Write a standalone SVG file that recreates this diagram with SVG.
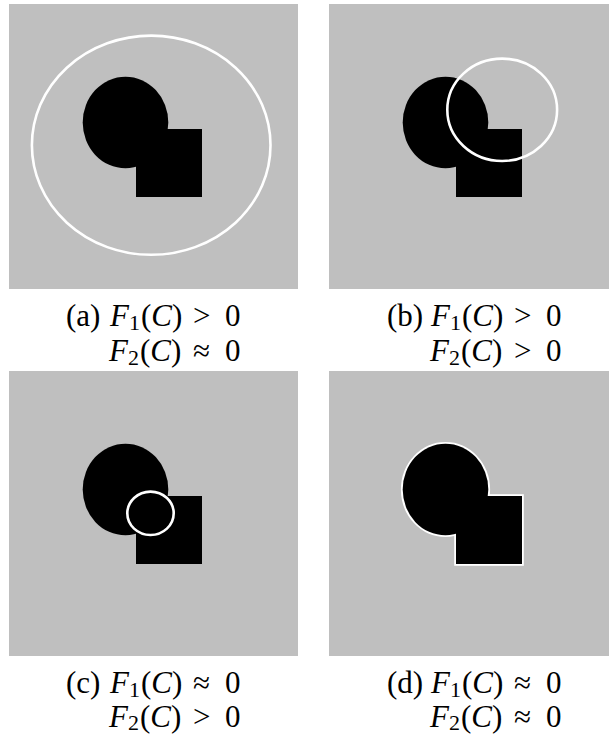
<svg xmlns="http://www.w3.org/2000/svg" xmlns:xlink="http://www.w3.org/1999/xlink" width="609" height="736" viewBox="0 0 609 736">
<style>
.bg{fill:#bfbfbf}
.blob{fill:#000}
.contour{fill:none;stroke:#fff;stroke-width:2.6}
.outline{fill:#000;stroke:#fff;stroke-width:3.6}
.lbl{font-family:"Liberation Serif","Times New Roman",serif;font-size:31px;fill:#000}
.it{font-style:italic}
.sub{font-size:22px}
</style>
<defs>
<g id="shapes" class="blob">
<ellipse cx="125.5" cy="122.5" rx="42.8" ry="45.8"/>
<rect x="136" y="129" width="66" height="68"/>
</g>
</defs>
<rect width="609" height="736" fill="#fff"/>
<g id="panel-a">
<rect class="bg" x="9" y="4" width="289" height="285"/>
<use xlink:href="#shapes"/>
<ellipse class="contour" cx="151.2" cy="145.2" rx="119.3" ry="109.6"/>
<text class="lbl" y="326"><tspan x="66">(a)</tspan><tspan x="110" class="it">F</tspan><tspan class="sub" dy="4">1</tspan><tspan x="141" dy="-4">(</tspan><tspan class="it">C</tspan><tspan>)</tspan><tspan x="193">&gt;</tspan><tspan x="225">0</tspan></text>
<text class="lbl" y="361"><tspan x="109" class="it">F</tspan><tspan class="sub" dy="4">2</tspan><tspan x="140" dy="-4">(</tspan><tspan class="it">C</tspan><tspan>)</tspan><tspan x="193">≈</tspan><tspan x="225">0</tspan></text>
</g>
<g id="panel-b">
<rect class="bg" x="329" y="4" width="280" height="285"/>
<use xlink:href="#shapes" transform="translate(320,0)"/>
<ellipse class="contour" cx="502.2" cy="109.8" rx="54.9" ry="51.2"/>
<text class="lbl" y="326"><tspan x="387">(b)</tspan><tspan x="431" class="it">F</tspan><tspan class="sub" dy="4">1</tspan><tspan x="462" dy="-4">(</tspan><tspan class="it">C</tspan><tspan>)</tspan><tspan x="514">&gt;</tspan><tspan x="546">0</tspan></text>
<text class="lbl" y="361"><tspan x="430" class="it">F</tspan><tspan class="sub" dy="4">2</tspan><tspan x="461" dy="-4">(</tspan><tspan class="it">C</tspan><tspan>)</tspan><tspan x="514">&gt;</tspan><tspan x="546">0</tspan></text>
</g>
<g id="panel-c">
<rect class="bg" x="9" y="371" width="289" height="285"/>
<use xlink:href="#shapes" transform="translate(0,367)"/>
<ellipse class="contour" cx="150.5" cy="513.3" rx="23.2" ry="21.7"/>
<text class="lbl" y="693"><tspan x="66">(c)</tspan><tspan x="110" class="it">F</tspan><tspan class="sub" dy="4">1</tspan><tspan x="141" dy="-4">(</tspan><tspan class="it">C</tspan><tspan>)</tspan><tspan x="193">≈</tspan><tspan x="225">0</tspan></text>
<text class="lbl" y="727"><tspan x="109" class="it">F</tspan><tspan class="sub" dy="3">2</tspan><tspan x="140" dy="-3">(</tspan><tspan class="it">C</tspan><tspan>)</tspan><tspan x="193">&gt;</tspan><tspan x="225">0</tspan></text>
</g>
<g id="panel-d">
<rect class="bg" x="329" y="371" width="280" height="285"/>
<g transform="translate(320,367)" class="outline">
<ellipse cx="125.5" cy="122.5" rx="42.8" ry="45.8"/>
<rect x="136" y="129" width="66" height="68"/>
</g>
<use xlink:href="#shapes" transform="translate(320,367)"/>
<text class="lbl" y="693"><tspan x="387">(d)</tspan><tspan x="431" class="it">F</tspan><tspan class="sub" dy="4">1</tspan><tspan x="462" dy="-4">(</tspan><tspan class="it">C</tspan><tspan>)</tspan><tspan x="514">≈</tspan><tspan x="546">0</tspan></text>
<text class="lbl" y="727"><tspan x="430" class="it">F</tspan><tspan class="sub" dy="3">2</tspan><tspan x="461" dy="-3">(</tspan><tspan class="it">C</tspan><tspan>)</tspan><tspan x="514">≈</tspan><tspan x="546">0</tspan></text>
</g>
<g id="connectors"/>
</svg>
